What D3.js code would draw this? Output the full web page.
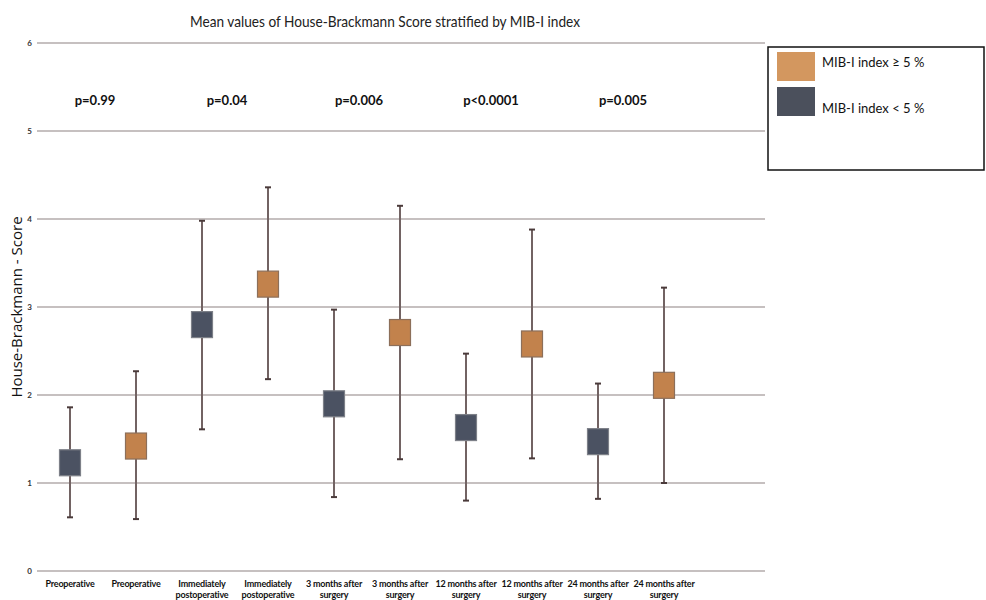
<!DOCTYPE html>
<html>
<head>
<meta charset="utf-8">
<script src="https://cdn.jsdelivr.net/npm/d3@7/dist/d3.min.js"></script>
<style>
  html, body { margin: 0; padding: 0; background: #ffffff; }
  svg { display: block; }
</style>
</head>
<body>
<svg id="chart" width="986" height="600"></svg>
<script>
// Time points (each appears once per MIB-I group)
const categories = [
  ["Preoperative"], ["Preoperative"],
  ["Immediately", "postoperative"], ["Immediately", "postoperative"],
  ["3 months after", "surgery"], ["3 months after", "surgery"],
  ["12 months after", "surgery"], ["12 months after", "surgery"],
  ["24 months after", "surgery"], ["24 months after", "surgery"]
];
// Group of each column: "low" = MIB-I < 5 %, "high" = MIB-I >= 5 %
const groups = ["low", "high", "low", "high", "low", "high", "low", "high", "low", "high"];
// Mean House-Brackmann score and whisker limits
const means = [1.23, 1.42, 2.80, 3.26, 1.90, 2.71, 1.63, 2.58, 1.47, 2.11];
const lower = [0.61, 0.59, 1.61, 2.18, 0.84, 1.27, 0.80, 1.28, 0.82, 1.00];
const upper = [1.86, 2.27, 3.98, 4.36, 2.97, 4.15, 2.47, 3.88, 2.13, 3.22];
const pValues = ["p=0.99", "p=0.04", "p=0.006", "p<0.0001", "p=0.005"];
const yTicks = [0, 1, 2, 3, 4, 5, 6];
const legendLabels = ["MIB-I index \u2265 5 %", "MIB-I index < 5 %"];

const fillColor = { high: "#c2824c", low: "#4b5262" };
const legendColor = { high: "#d3975f", low: "#4b505c" };

const svg = d3.select("#chart");
const left = 37, gridRight = 765;

const x = d3.scaleBand()
  .domain(d3.range(categories.length))
  .range([37, 697])
  .paddingInner(0)
  .paddingOuter(0);

const y = d3.scaleLinear().domain([0, 6]).range([571, 43]);

// Title
svg.append("text")
  .attr("x", 385).attr("y", 27)
  .attr("text-anchor", "middle")
  .attr("font-family", "Lato, 'Open Sans', sans-serif")
  .attr("font-size", 16)
  .attr("textLength", 390)
  .attr("lengthAdjust", "spacingAndGlyphs")
  .attr("fill", "#222")
  .text("Mean values of House-Brackmann Score stratified by MIB-I index");

// Horizontal grid lines
svg.append("g").selectAll("line")
  .data(yTicks).join("line")
  .attr("x1", left).attr("x2", gridRight)
  .attr("y1", d => y(d)).attr("y2", d => y(d))
  .attr("stroke", "#b3abab").attr("stroke-width", 1.5);

// Y axis tick labels
const yAxis = d3.axisLeft(y).tickValues(yTicks).tickSize(0).tickPadding(0).tickFormat(d3.format("d"));
const yg = svg.append("g").attr("transform", "translate(32,0)").call(yAxis);
yg.select(".domain").remove();
yg.selectAll("text")
  .attr("font-family", "Lato, sans-serif")
  .attr("font-size", 8)
  .attr("font-weight", "bold")
  .attr("fill", "#333");

// Y axis title
svg.append("text")
  .attr("transform", "translate(22,307) rotate(-90)")
  .attr("text-anchor", "middle")
  .attr("font-family", "'Open Sans', sans-serif")
  .attr("font-size", 15)
  .attr("fill", "#111")
  .text("House-Brackmann - Score");

// X axis labels (two lines)
const xg = svg.append("g");
categories.forEach((lines, i) => {
  const t = xg.append("text")
    .attr("x", x(i) + x.bandwidth() / 2)
    .attr("y", 587)
    .attr("text-anchor", "middle")
    .attr("font-family", "Lato, sans-serif")
    .attr("font-size", 9)
    .attr("font-weight", "bold")
    .attr("letter-spacing", -0.2)
    .attr("fill", "#111");
  lines.forEach((ln, k) => {
    t.append("tspan")
      .attr("x", x(i) + x.bandwidth() / 2)
      .attr("dy", k === 0 ? 0 : 11)
      .text(ln);
  });
});

// Whiskers
const cx = i => x(i) + x.bandwidth() / 2;
const marks = svg.append("g");
marks.selectAll("line.whisker")
  .data(d3.range(categories.length)).join("line")
  .attr("class", "whisker")
  .attr("x1", cx).attr("x2", cx)
  .attr("y1", i => y(lower[i])).attr("y2", i => y(upper[i]))
  .attr("stroke", "#726363").attr("stroke-width", 2);
// Whisker caps
["lower", "upper"].forEach(k => {
  const arr = k === "lower" ? lower : upper;
  marks.selectAll("line.cap-" + k)
    .data(d3.range(categories.length)).join("line")
    .attr("class", "cap-" + k)
    .attr("x1", i => cx(i) - 3).attr("x2", i => cx(i) + 3)
    .attr("y1", i => y(arr[i])).attr("y2", i => y(arr[i]))
    .attr("stroke", "#4a3a3a").attr("stroke-width", 2);
});

// Mean markers
const boxW = 21, boxH = 26;
marks.selectAll("rect.mean")
  .data(d3.range(categories.length)).join("rect")
  .attr("class", "mean")
  .attr("x", i => cx(i) - boxW / 2)
  .attr("y", i => y(means[i]) - boxH / 2)
  .attr("width", boxW).attr("height", boxH)
  .attr("fill", i => fillColor[groups[i]])
  .attr("stroke", i => groups[i] === "high" ? "#8c6f5a" : "#7d8088")
  .attr("stroke-width", 1.2);

// p-values above each pair of columns
svg.append("g").selectAll("text")
  .data(pValues).join("text")
  .attr("x", (d, j) => (cx(2 * j) + cx(2 * j + 1)) / 2 - 8)
  .attr("y", 105)
  .attr("text-anchor", "middle")
  .attr("font-family", "Lato, sans-serif")
  .attr("font-size", 13)
  .attr("font-weight", "bold")
  .attr("fill", "#111")
  .text(d => d);

// Legend
const lg = svg.append("g");
lg.append("rect")
  .attr("x", 768).attr("y", 47).attr("width", 216).attr("height", 123)
  .attr("fill", "#fff").attr("stroke", "#111").attr("stroke-width", 1.5);
const legendKeys = ["high", "low"];
const ly = d3.scalePoint().domain(legendKeys).range([52, 87]);
lg.selectAll("rect.sw")
  .data(legendKeys).join("rect")
  .attr("class", "sw")
  .attr("x", 777).attr("y", d => ly(d))
  .attr("width", 38).attr("height", 29)
  .attr("fill", d => legendColor[d]);
lg.selectAll("text")
  .data(legendKeys).join("text")
  .attr("x", 822)
  .attr("y", (d, i) => i === 0 ? 67 : 113)
  .attr("font-family", "Lato, sans-serif")
  .attr("font-size", 13)
  .attr("fill", "#111")
  .text((d, i) => legendLabels[i]);
</script>
</body>
</html>
